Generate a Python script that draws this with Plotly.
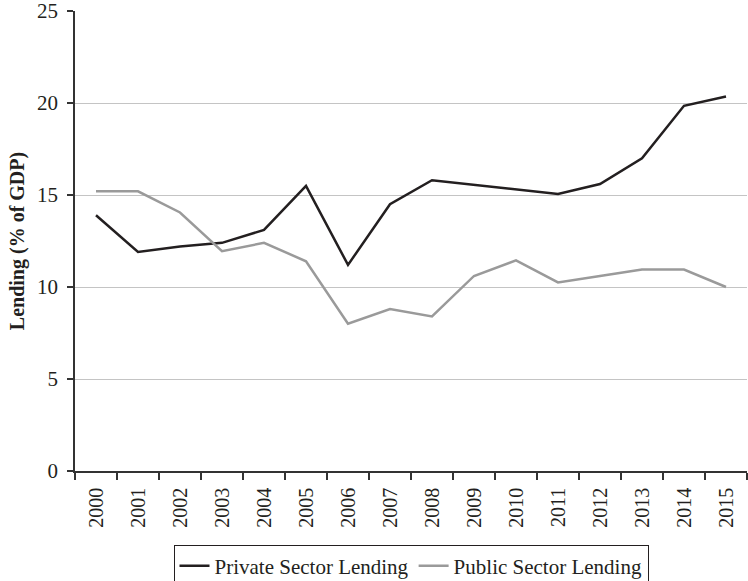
import plotly.graph_objects as go

years = [str(y) for y in range(2000, 2016)]
private_lending = [13.9, 11.9, 12.2, 12.4, 13.1, 15.5, 11.2, 14.5, 15.8,
                   15.55, 15.3, 15.05, 15.6, 17.0, 19.85, 20.35]
public_lending = [15.2, 15.2, 14.05, 11.95, 12.4, 11.4, 8.0, 8.8, 8.4,
                  10.6, 11.45, 10.25, 10.6, 10.95, 10.95, 10.0]

FONT = "Liberation Serif"

fig = go.Figure()
fig.add_trace(go.Scatter(x=years, y=private_lending, mode="lines",
                         name="Private Sector Lending",
                         line=dict(color="#231f20", width=2.5)))
fig.add_trace(go.Scatter(x=years, y=public_lending, mode="lines",
                         name="Public Sector Lending",
                         line=dict(color="#9a9a9a", width=2.5)))

fig.update_layout(
    width=748, height=581,
    margin=dict(l=75, r=1, t=11, b=110, autoexpand=False),
    paper_bgcolor="white", plot_bgcolor="white",
    font=dict(family=FONT, color="#231f20", size=20),
    showlegend=True,
    legend=dict(orientation="h", x=0.5, xanchor="center", y=-0.16, yanchor="top",
                bordercolor="#231f20", borderwidth=1, font=dict(size=21),
                itemwidth=30, tracegroupgap=0),
)
fig.update_xaxes(type="category", range=[-0.5, 15.5], tickson="boundaries",
                 ticks="outside", ticklen=7, tickwidth=1.5, tickcolor="#333",
                 tickangle=-90, showgrid=False, showline=True, linecolor="#333",
                 linewidth=1.5, tickfont=dict(size=20), ticklabelstandoff=7,
                 automargin=False, ticklabeloverflow="allow")
fig.update_yaxes(range=[0, 25], dtick=5, ticks="outside", ticklen=6, tickwidth=1.5,
                 tickcolor="#333", showline=True, linecolor="#333", linewidth=1.5,
                 gridcolor="#c4c4c4", gridwidth=1, zeroline=False,
                 tickfont=dict(size=21), automargin=False, ticklabeloverflow="allow",
                 ticklabelstandoff=5,
                 title=dict(text="<b>Lending (% of GDP)</b>", font=dict(size=20), standoff=7))

# drop the default 8px page margin so the figure sits at the window's corner
fig.write_html("out.html", config={"displayModeBar": False},
               post_script="document.body.style.margin='0';")
